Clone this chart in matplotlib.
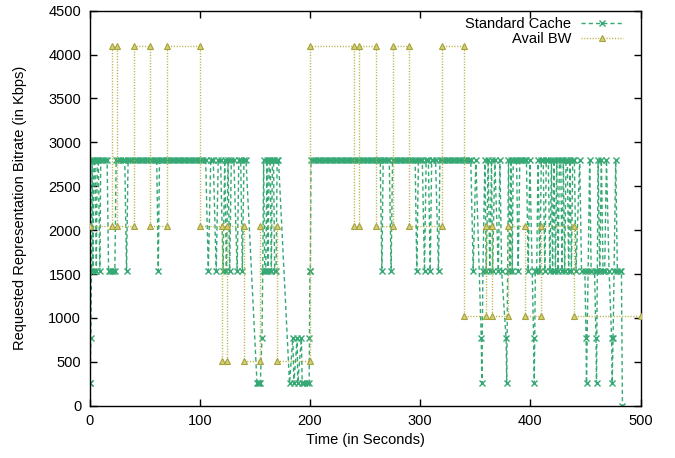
import matplotlib
matplotlib.use("Agg")
import matplotlib.pyplot as plt

plt.rcParams['font.family'] = ['Liberation Sans', 'DejaVu Sans']

# ---- data (time in s, bitrate in kbps) ----
cache_samples = [
    (0, 256), (0.6, 256), (1.2, 768), (1.8, 1536), (2.4, 2800), (3.2, 1536), (4, 2800), (5, 2800),
    (6.2, 1536), (7, 2800), (8, 2800), (9.4, 1536), (10.2, 2800), (12, 2800), (14, 2800), (16, 2800),
    (17.3, 1536), (18.8, 1536), (20.3, 1536), (21.7, 1536), (23.0, 1536), (24.2, 2800), (26, 2800),
    (28, 2800), (30, 2800), (32, 2800), (33.6, 1536), (35, 2800), (37, 2800), (39, 2800), (41, 2800),
    (43, 2800), (45, 2800), (47, 2800), (49, 2800), (51, 2800), (53, 2800), (55, 2800), (57, 2800),
    (59, 2800), (61, 2800), (62.4, 1536), (63.5, 2800), (65, 2800), (67, 2800), (69, 2800), (71, 2800),
    (73, 2800), (75, 2800), (77, 2800), (79, 2800), (81, 2800), (83, 2800), (85, 2800), (87, 2800),
    (89, 2800), (91, 2800), (93, 2800), (95, 2800), (97, 2800), (99, 2800), (101, 2800), (103, 2800),
    (105.4, 2800), (107.8, 1536), (110, 2800), (112.3, 2800), (115, 1536), (116.8, 2800), (119, 2800),
    (121.2, 1536), (122.7, 2800), (124.2, 1536), (125.7, 2800), (127.2, 1536), (128.7, 2800),
    (131, 2800), (134, 1536), (135.5, 2800), (137.2, 2800), (138.7, 1536), (140.2, 2800), (142, 2800),
    (152, 256), (153, 256), (154, 256), (155, 256), (156.5, 768), (157.2, 1536), (158, 2800),
    (159, 1536), (160, 1536), (161, 2800), (162, 1536), (163, 2800), (164, 2800), (165, 1536),
    (166, 2800), (167, 2800), (168, 1536), (169.3, 1536), (170.3, 2800), (171.5, 2800),
    (181.5, 256), (184.5, 768), (185.5, 256), (188.4, 768), (189, 256), (192.3, 768), (193, 256),
    (195, 256), (197.5, 256), (199.3, 256), (199.6, 768), (200, 1536), (200.4, 1536),
    (201, 2800), (203, 2800), (205, 2800), (207, 2800), (209, 2800), (211, 2800), (213, 2800),
    (215, 2800), (217, 2800), (219, 2800), (221, 2800), (223, 2800), (225, 2800), (227, 2800),
    (229, 2800), (231, 2800), (233, 2800), (235, 2800), (237, 2800), (239, 2800), (241, 2800),
    (243, 2800), (245, 2800), (247, 2800), (249, 2800), (251, 2800), (253, 2800), (255, 2800),
    (257, 2800), (259, 2800), (261, 2800), (263, 2800), (263.8, 2800), (265.3, 1536), (266.5, 2800),
    (268, 2800), (270, 2800), (272, 2800), (273.7, 1536), (275, 2800), (277, 2800), (279, 2800),
    (281, 2800), (283, 2800), (285, 2800), (287, 2800), (289, 2800), (291, 2800), (293, 2800),
    (295.5, 2800), (297, 1536), (298.5, 2800), (300, 2800), (302, 2800), (304, 1536), (305.5, 2800),
    (307.5, 2800), (309.2, 1536), (310.5, 2800), (312, 2800), (314, 2800), (316.7, 1536),
    (318, 2800), (320, 2800), (322, 2800), (324, 2800), (326, 2800), (328, 2800), (330, 2800),
    (332, 2800), (334, 2800), (336, 2800), (338, 2800), (340, 2800), (342, 2800), (344, 2800),
    (346, 2800), (348.2, 1536), (350.6, 2800), (355.5, 768), (356, 256), (357, 1536), (358.8, 2800),
    (360, 1536), (361.8, 2800), (363.2, 1536), (364.8, 2800), (365.8, 1536), (367.8, 2800),
    (371, 1536), (372.4, 2800), (374, 1536), (378, 768), (378.6, 256), (379.4, 1536), (380.2, 2800),
    (381.5, 1536), (382.5, 2800), (383.6, 1536), (384.5, 2800), (386, 2800), (387.5, 2800),
    (389, 1536), (390.5, 2800), (392, 2800), (393.6, 2800), (395, 2800), (396.5, 2800),
    (398.1, 1536), (399.6, 2800), (403, 768), (403.6, 256), (404.6, 1536), (405.8, 1536),
    (407, 2800), (408.7, 1536), (410, 2800), (411.7, 2800), (413.2, 1536), (414.5, 2800),
    (416.3, 2800), (417.8, 1536), (419.2, 2800), (420.2, 1536), (421.5, 2800), (422.8, 1536),
    (424, 2800), (425.2, 1536), (426.4, 2800), (427.6, 2800), (428.8, 1536), (430, 2800),
    (431.2, 1536), (432.4, 2800), (433.6, 2800), (434.8, 1536), (436, 2800), (437.3, 1536),
    (438.5, 2800), (440, 2800), (441.5, 1536), (444.8, 2800), (446.5, 1536), (449.5, 1536),
    (450.6, 768), (451, 256), (452.5, 1536), (453.9, 2800), (455.2, 1536), (458.3, 1536),
    (459.6, 768), (460.1, 256), (460.8, 1536), (461.5, 2800), (463, 1536), (464.5, 2800),
    (466, 1536), (467.5, 1536), (469.1, 2800), (471.5, 1536), (473.8, 768), (474.3, 256),
    (475.1, 768), (476, 1536), (477.5, 2800), (479, 1536), (481, 1536), (482.7, 1536), (483.6, 0),
]

bw_samples = [
    (0, 2048), (20, 2048), (20, 4096), (25, 4096), (25, 2048), (40, 2048), (40, 4096),
    (55, 4096), (55, 2048), (70, 2048), (70, 4096), (100, 4096), (100, 2048), (120, 2048),
    (120, 512), (125, 512), (125, 2048), (140, 2048), (140, 512), (155, 512), (155, 2048),
    (170, 2048), (170, 512), (200, 512), (200, 4096), (240, 4096), (240, 2048), (245, 2048),
    (245, 4096), (260, 4096), (260, 2048), (275, 2048), (275, 4096), (290, 4096), (290, 2048),
    (320, 2048), (320, 4096), (340, 4096), (340, 1024), (360, 1024), (360, 2048), (365, 2048),
    (365, 1024), (380, 1024), (380, 2048), (395, 2048), (395, 1024), (410, 1024), (410, 2048),
    (440, 2048), (440, 1024), (500, 1024),
]

series_labels = ["Standard Cache", "Avail BW"]
x_ticks = [0, 100, 200, 300, 400, 500]
y_ticks = [0, 500, 1000, 1500, 2000, 2500, 3000, 3500, 4000, 4500]
x_label = "Time (in Seconds)"
y_label = "Requested Representation Bitrate (in Kbps)"

GREEN = '#35a873'
KHAKI = '#b4b042'
FS = 10.5

fig = plt.figure(figsize=(6.75, 4.58), dpi=100)
W, H = 675, 458
ax = fig.add_axes([89.5 / W, 1 - 405.7 / H, 551 / W, 395 / H])

ct = [p[0] for p in cache_samples]
cv = [p[1] for p in cache_samples]
bt = [p[0] for p in bw_samples]
bv = [p[1] for p in bw_samples]

ax.plot(ct, cv, color=GREEN, linestyle=(0, (3, 2.2)), linewidth=1.0,
        marker='x', markersize=5, markeredgewidth=1.0, label=series_labels[0], zorder=2)
ax.plot(bt, bv, color=KHAKI, linestyle=(0, (0.8, 1.2)), linewidth=1.0,
        marker='^', markersize=5, markerfacecolor='#d3cf78', markeredgecolor='#a6a23c',
        markeredgewidth=0.8, label=series_labels[1], zorder=3)

ax.set_xlim(0, 500)
ax.set_ylim(0, 4500)
ax.set_xticks(x_ticks)
ax.set_yticks(y_ticks)
ax.tick_params(direction='in', top=True, right=True, length=5, width=1,
               labelsize=FS, pad=6, colors='black')
for s in ax.spines.values():
    s.set_linewidth(1.0)
    s.set_color('black')

ax.set_xlabel(x_label, fontsize=FS)
ax.set_ylabel(y_label, fontsize=FS)
ax.xaxis.set_label_coords(0.5, -0.069)
ax.yaxis.set_label_coords(-0.113, 0.5)

ax.legend(loc='upper right', bbox_to_anchor=(0.9686, 0.985), markerfirst=False,
          frameon=False, handlelength=2.9, handletextpad=0.66, labelspacing=0.12,
          borderpad=0, borderaxespad=0, fontsize=FS)

fig.savefig('out.png', dpi=100)
